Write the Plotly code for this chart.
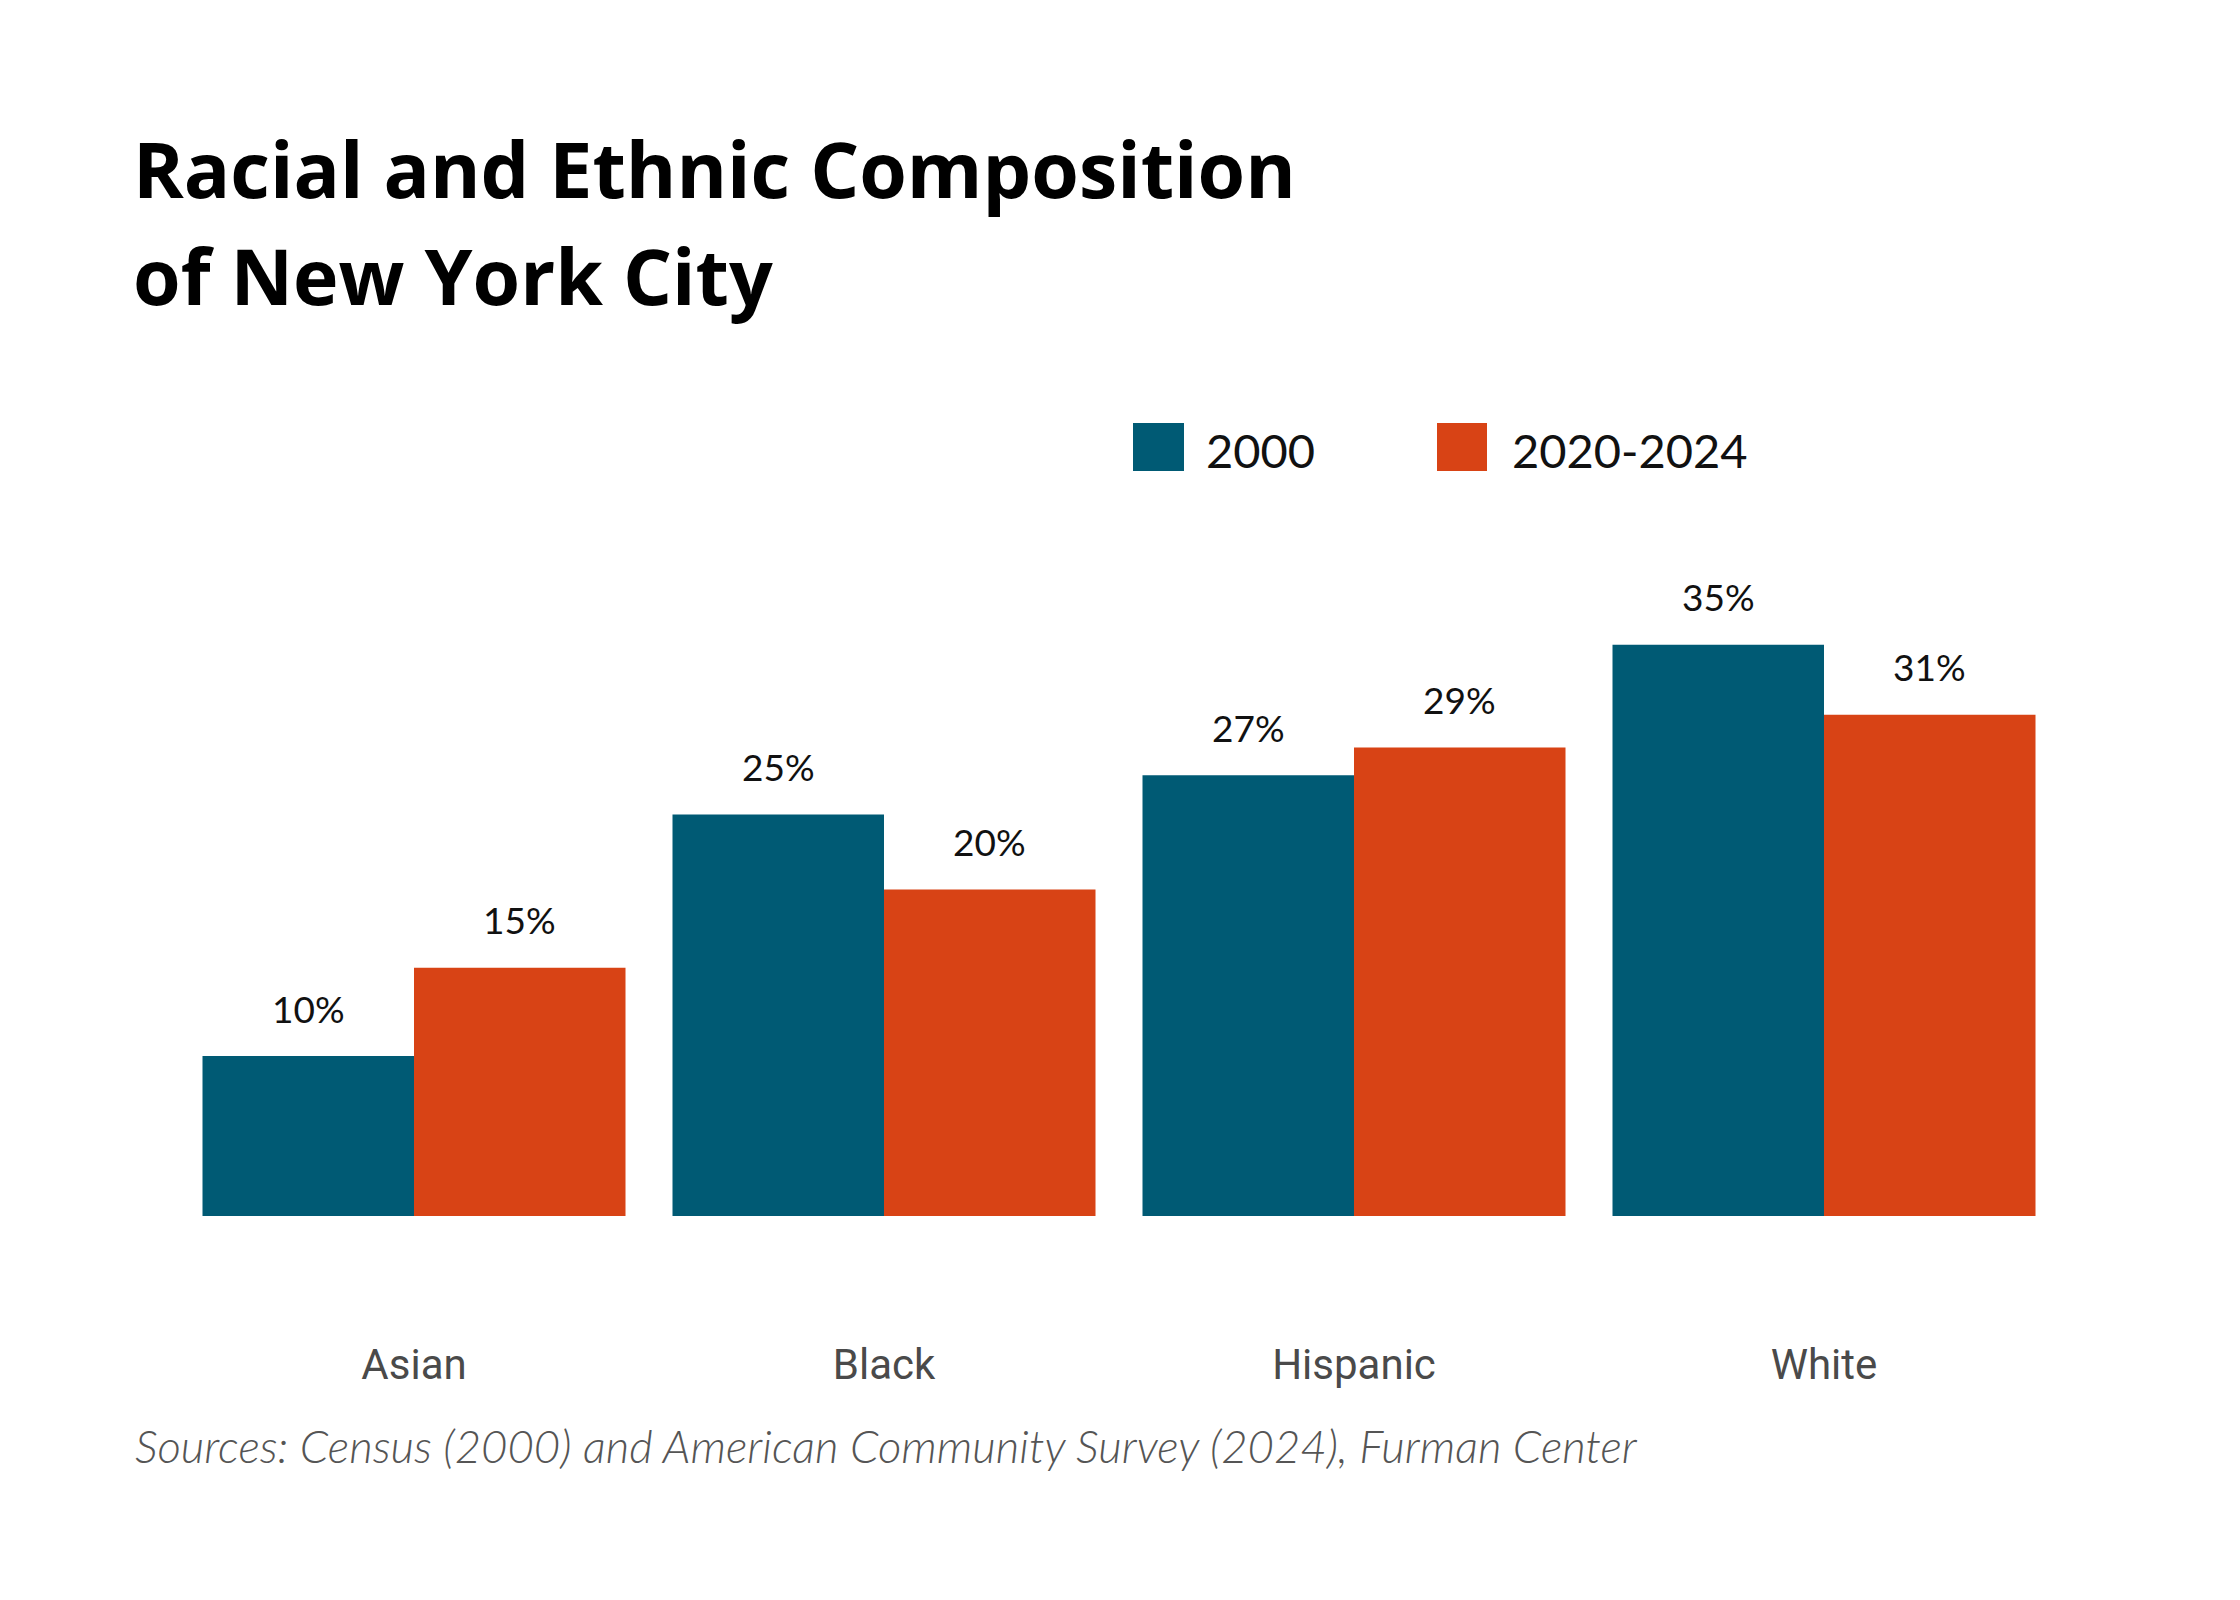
import plotly.graph_objects as go

categories = ["Asian", "Black", "Hispanic", "White"]
series_names = ["2000", "2020-2024"]
values_2000 = [9.8, 24.6, 27.0, 35.0]
values_2024 = [15.2, 20.0, 28.7, 30.7]
colors = ["#005A74", "#D84315"]

title_lines = ["Racial and Ethnic Composition", "of New York City"]
source_text = "Sources: Census (2000) and American Community Survey (2024), Furman Center"

W, H = 2240, 1600
DX, DY = -8, -8
ML, MR, MT, MB = 179 + DX, 181 - DX, 563 + DY, 384 - DY
plot_w = W - ML - MR
plot_h = H - MT - MB
bargap = 0.1
bar_px = plot_w / len(categories) * (1 - bargap) / 2

def px_x(X):
    return (X + DX - ML) / plot_w

def px_y(Y):
    return (H - MB - (Y + DY)) / plot_h

fig = go.Figure()
for name, vals, col in zip(series_names, [values_2000, values_2024], colors):
    fig.add_trace(go.Bar(x=categories, y=vals, name=name, marker=dict(color=col, line=dict(width=0)),
                         showlegend=False, hoverinfo="skip"))

annotations = []
label_font = dict(family="Lato", size=37, color="#111111")
for i, vals in enumerate([values_2000, values_2024]):
    shift = -bar_px / 2 if i == 0 else bar_px / 2
    for c, v in zip(categories, vals):
        annotations.append(dict(x=c, y=v, xref="x", yref="y", text=f"{round(v):d}%",
                                showarrow=False, xshift=shift, yshift=48, yanchor="middle",
                                xanchor="center", font=label_font))

# title lines
title_font = dict(family="Open Sans", size=77, color="#000000", weight=700)
for k, line in enumerate(title_lines):
    annotations.append(dict(x=px_x(131), y=px_y(168 + 107 * k), xref="paper", yref="paper",
                            text=line, showarrow=False, xanchor="left", yanchor="middle",
                            font=title_font))

# legend (manual)
shapes = []
leg_font = dict(family="Lato", size=47, color="#111111")
leg_sq = [(1133, 1184), (1437, 1487)]
leg_tx = [1204, 1510]
for (x0, x1), tx, name, col in zip(leg_sq, leg_tx, series_names, colors):
    shapes.append(dict(type="rect", xref="paper", yref="paper", x0=px_x(x0), x1=px_x(x1),
                       y0=px_y(471), y1=px_y(423), fillcolor=col, line=dict(width=0)))
    annotations.append(dict(x=px_x(tx), y=px_y(450), xref="paper", yref="paper", text=name,
                            showarrow=False, xanchor="left", yanchor="middle", font=leg_font))

annotations.append(dict(x=px_x(133), y=px_y(1445), xref="paper", yref="paper", text=source_text,
                        showarrow=False, xanchor="left", yanchor="middle",
                        font=dict(family="Lato", size=45.5, color="#555555", style="italic", weight=300)))

fig.update_layout(
    width=W, height=H,
    margin=dict(l=ML, r=MR, t=MT, b=MB, pad=0),
    paper_bgcolor="white", plot_bgcolor="white",
    barmode="group", bargap=bargap, bargroupgap=0,
    showlegend=False,
    annotations=annotations, shapes=shapes,
    xaxis=dict(showgrid=False, showline=False, zeroline=False, ticks="",
               tickfont=dict(family="Roboto", size=42, color="#4A4A4A"),
               ticklabelstandoff=120, range=[-0.5, 3.5]),
    yaxis=dict(range=[0, 40], showgrid=False, showline=False, zeroline=False,
               showticklabels=False, ticks=""),
)

fig.write_html("out.html")
